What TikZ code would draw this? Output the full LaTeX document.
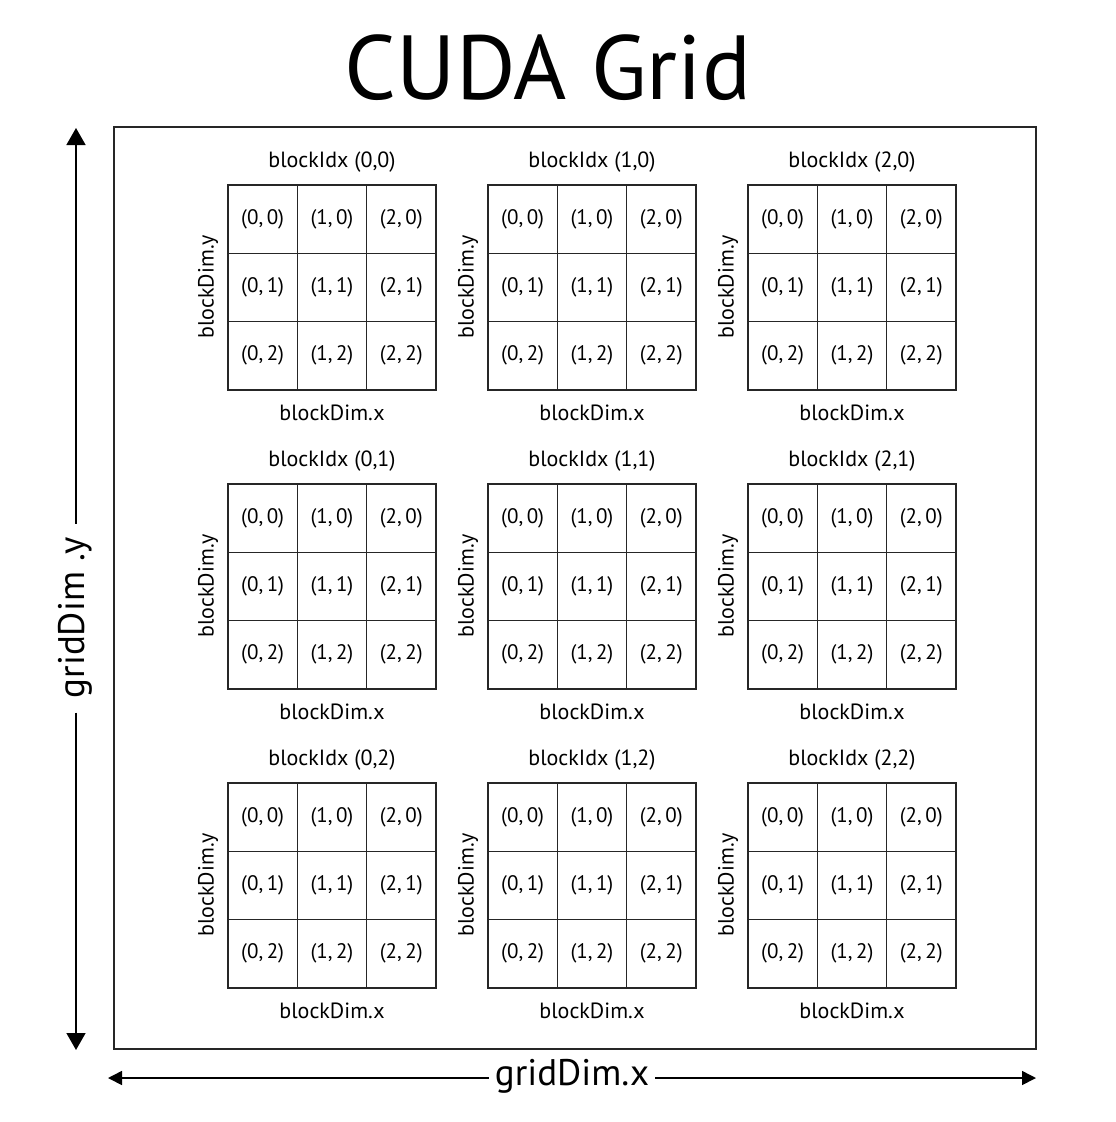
\documentclass[tikz,border=0pt]{standalone}
\usepackage{fontspec}
\setmainfont{PT Sans}
\usetikzlibrary{arrows.meta}
\begin{document}
\begin{tikzpicture}[x=1pt,y=-1pt,
  cellbox/.style={draw=black!85, line width=1.6pt, minimum width=69.3pt, minimum height=68.3pt, inner sep=0pt, font=\fontsize{21}{21}\selectfont},
  lbl/.style={inner sep=0pt, font=\fontsize{22}{22}\selectfont},
  dimarrow/.style={line width=1.6pt, -{Triangle[length=17pt,width=19pt]}},
  harrow/.style={line width=1.6pt, -{Triangle[length=14pt,width=14pt]}}]
\useasboundingbox (0,0) rectangle (1116,1122);
\node[font=\fontsize{91}{91}\selectfont, inner sep=0pt] (title) at (548,68) {CUDA Grid};
\node[draw=black!85, line width=1.8pt, minimum width=922pt, minimum height=922pt, inner sep=0pt] (grid) at (575,588) {};
\foreach \bx in {0,1,2}{
  \foreach \by in {0,1,2}{
    \pgfmathsetmacro{\xo}{228+260*\bx}
    \pgfmathsetmacro{\yo}{185+299*\by}
    \foreach \i in {0,1,2}{
      \foreach \j in {0,1,2}{
        \node[cellbox] (c\bx\by\i\j) at ({\xo+69.3*(\i+0.5)},{\yo+68.3*(\j+0.5)}) {(\i,\,\j)};
      }
    }
    \node[lbl] (bi\bx\by) at ({\xo+104},{\yo-23}) {blockIdx (\bx,\by)};
    \node[lbl] (bdx\bx\by) at ({\xo+104},{\yo+228}) {blockDim.x};
    \node[lbl, rotate=90] (bdy\bx\by) at ({\xo-20},{\yo+102}) {blockDim.y};
  }
}
\node[font=\fontsize{37}{37}\selectfont, inner sep=6pt] (gx) at (572,1076) {gridDim.x};
\coordinate (gxl) at (108,1078);
\coordinate (gxr) at (1036,1078);
\draw[harrow] (gx.west|-gxl) -- (gxl);
\draw[harrow] (gx.east|-gxr) -- (gxr);
\node[font=\fontsize{37}{37}\selectfont, inner sep=14pt, rotate=90] (gy) at (75,618) {gridDim .y};
\coordinate (gyt) at (76,128);
\coordinate (gyb) at (76,1050);
\draw[dimarrow] (gy.east-|gyt) -- (gyt);
\draw[dimarrow] (gy.west-|gyb) -- (gyb);
\end{tikzpicture}
\end{document}
